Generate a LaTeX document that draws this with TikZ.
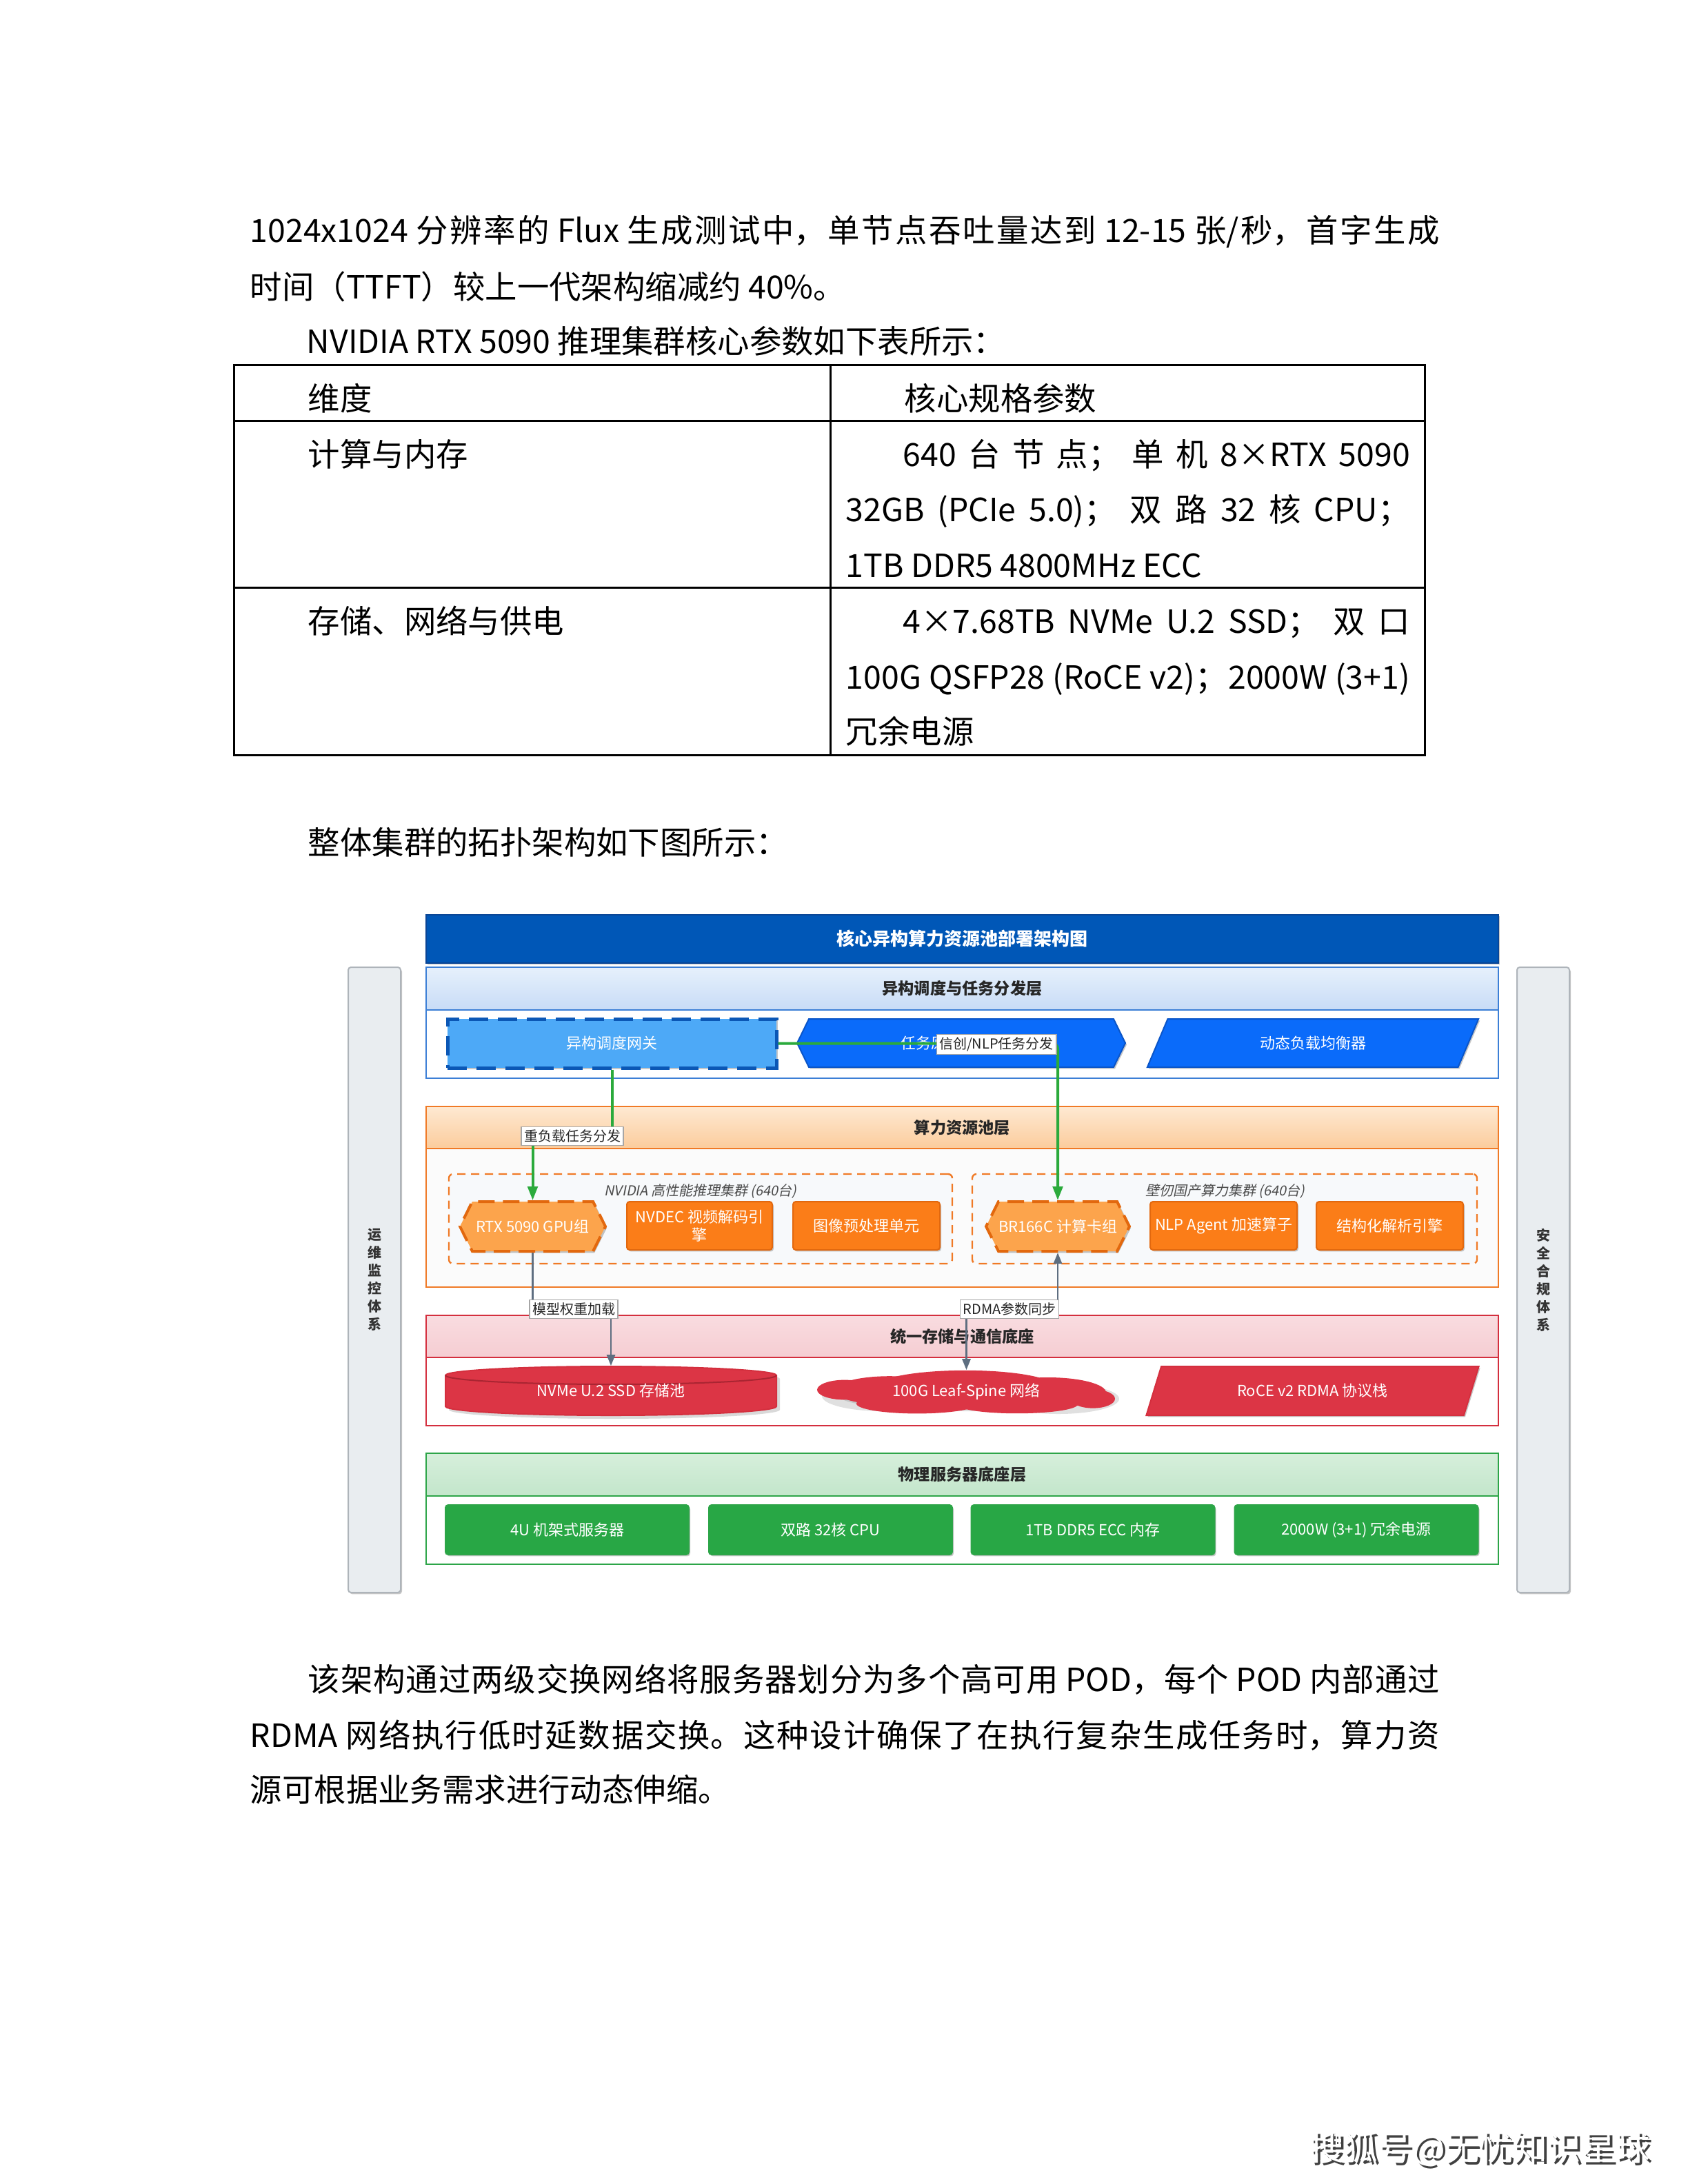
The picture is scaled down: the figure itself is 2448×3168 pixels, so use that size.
\documentclass[tikz,border=0pt]{standalone}
\usepackage{fontspec}
\setmainfont{Noto Sans CJK SC}
\newfontfamily\slfont{Noto Sans CJK SC}[FakeSlant=0.2]
\usetikzlibrary{arrows.meta,shapes.geometric,shapes.symbols,shadows}
\XeTeXlinebreaklocale "zh"
\XeTeXlinebreakskip=0pt plus 3pt minus 0.3pt
\hbadness=10000
\newlength\pxu
\setlength\pxu{0.25pt}
\newcommand{\justline}[2]{\parbox[b]{#1\pxu}{\parindent=0pt\parfillskip=0pt\relax #2}}

\definecolor{titleblue}{HTML}{0057B7}
\definecolor{titleedge}{HTML}{0A4696}
\definecolor{schedtop}{HTML}{E6F0FC}
\definecolor{schedbot}{HTML}{C8DCF6}
\definecolor{schededge}{HTML}{3C7FD6}
\definecolor{gwfill}{HTML}{4DA9F7}
\definecolor{gwedge}{HTML}{0B57B5}
\definecolor{brightblue}{HTML}{0A6BFA}
\definecolor{brightedge}{HTML}{0A55C8}
\definecolor{pooltop}{HTML}{FEE9D2}
\definecolor{poolbot}{HTML}{FBCC9C}
\definecolor{pooledge}{HTML}{F07A26}
\definecolor{orangebox}{HTML}{FB7D18}
\definecolor{orangeedge}{HTML}{E2680E}
\definecolor{orangehex}{HTML}{FCA44C}
\definecolor{clusterfill}{HTML}{F7F9FB}
\definecolor{stortop}{HTML}{F9DCE0}
\definecolor{storbot}{HTML}{F5CDD2}
\definecolor{rededge}{HTML}{D42F3E}
\definecolor{redbox}{HTML}{DC3545}
\definecolor{phystop}{HTML}{D6EFDB}
\definecolor{physbot}{HTML}{C3E6CB}
\definecolor{greenedge}{HTML}{2DA548}
\definecolor{greenbox}{HTML}{28A745}
\definecolor{sidefill}{HTML}{E9EDF0}
\definecolor{sideedge}{HTML}{AEB4BA}
\definecolor{arrowgreen}{HTML}{2BAA3C}
\definecolor{arrowgrey}{HTML}{5E6E80}

\tikzset{
  boxsize/.style 2 args={minimum width=#1\pxu, minimum height=#2\pxu},
  bodytext/.style={anchor=base west, inner sep=0pt, font=\fontsize{11.6}{14}\selectfont},
  softshadow/.style={drop shadow={shadow xshift=0.5pt, shadow yshift=-0.6pt, opacity=0.22, fill=black}},
  titlebar/.style={rectangle, fill=titleblue, draw=titleedge, line width=0.5pt, text=white,
    font=\bfseries\fontsize{6.5}{7}\selectfont, inner sep=0pt, softshadow},
  band/.style={rectangle, line width=0.6pt, inner sep=0pt, text=black!85,
    font=\bfseries\fontsize{5.8}{7}\selectfont},
  layerbox/.style={line width=0.6pt},
  celltext/.style={rectangle, inner sep=0pt, text=white, align=center,
    font=\fontsize{5.5}{6.6}\selectfont},
  cellbox/.style={celltext, softshadow},
  hexbox/.style={cellbox, signal, signal to=west and east},
  slantbox/.style={cellbox, trapezium, trapezium left angle=62, trapezium right angle=118,
    trapezium stretches},
  cluster/.style={rectangle, rounded corners=1.5pt, draw=pooledge, fill=clusterfill,
    dashed, dash pattern=on 3pt off 2pt, line width=0.6pt},
  clusterlabel/.style={inner sep=0pt, text=black!70, font=\slfont\fontsize{5}{6}\selectfont},
  sidebar/.style={rectangle, rounded corners=1pt, fill=sidefill, draw=sideedge, line width=0.5pt,
    inner sep=0pt, softshadow},
  sidetext/.style={inner sep=0pt, align=center, text=black!80,
    font=\bfseries\fontsize{5}{6.5}\selectfont},
  edgelabel/.style={rectangle, fill=white, draw=gray!70, line width=0.3pt, inner sep=1pt,
    text=black!85, font=\fontsize{5}{6}\selectfont},
  flowgreen/.style={draw=arrowgreen, line width=1pt, -{Triangle[length=5pt,width=3.6pt]}},
  flowgrey/.style={draw=arrowgrey, line width=0.7pt, -{Triangle[length=4pt,width=3pt]}},
  marktext/.style={inner sep=0pt, font=\fontsize{12.4}{12.4}\selectfont}
}

\begin{document}
\begin{tikzpicture}[x=0.25pt, y=-0.25pt]
\fill[white] (0,0) rectangle (2448,3168);
\useasboundingbox (0,0) rectangle (2448,3168);

% text above the table
\node[bodytext] (p1a) at (362,352) {\justline{1725}{1024x1024 分辨率的 Flux 生成测试中，单节点吞吐量达到 12-15 张/秒，首字生成}};
\node[bodytext] (p1b) at (362,433) {时间（TTFT）较上一代架构缩减约 40\%。};
\node[bodytext] (p1c) at (444,512) {NVIDIA RTX 5090 推理集群核心参数如下表所示：};

% table
\draw[line width=0.75pt] (339,529) rectangle (2066,1095);
\draw[line width=0.75pt] (339,610) -- (2066,610);
\draw[line width=0.75pt] (339,852) -- (2066,852);
\draw[line width=0.75pt] (1204,529) -- (1204,1095);
\node[bodytext] (hdra) at (446,595) {维度};
\node[bodytext] (hdrb) at (1311,595) {核心规格参数};
\node[bodytext] (rowa) at (446,676) {计算与内存};
\node[bodytext] (rowaa) at (1309,676) {\justline{735}{640 台节点；单机 8×RTX 5090}};
\node[bodytext] (rowab) at (1226,756) {\justline{818}{32GB (PCIe 5.0)；双路 32 核 CPU；}};
\node[bodytext] (rowac) at (1226,837) {1TB DDR5 4800MHz ECC};
\node[bodytext] (rowb) at (446,918) {存储、网络与供电};
\node[bodytext] (rowba) at (1309,918) {\justline{735}{4×7.68TB NVMe U.2 SSD；双口}};
\node[bodytext] (rowbb) at (1226,999) {\justline{818}{100G QSFP28 (RoCE v2)；2000W (3+1)}};
\node[bodytext] (rowbc) at (1226,1078) {冗余电源};

\node[bodytext] (intro) at (446,1239) {整体集群的拓扑架构如下图所示：};

% side bars
\node[sidebar, boxsize={76}{907}] (opsbar) at (543,1856.5) {};
\node[sidebar, boxsize={76}{907}] (secbar) at (2238,1856.5) {};
\node[sidetext] (opstext) at (opsbar) {运\\维\\监\\控\\体\\系};
\node[sidetext] (sectext) at (secbar) {安\\全\\合\\规\\体\\系};

% title
\node[titlebar, boxsize={1555}{70}] (title) at (1395.5,1362) {核心异构算力资源池部署架构图};

% scheduling layer
\draw[layerbox, draw=schededge, fill=white] (618,1403) rectangle (2173,1564);
\node[band, draw=schededge, top color=schedtop, bottom color=schedbot, boxsize={1555}{62}] (schedband) at (1395.5,1434) {异构调度与任务分发层};
\node[cellbox, fill=gwfill, draw=gwedge, line width=1.25pt, dash pattern=on 7pt off 3.5pt, boxsize={477}{71}] (gw) at (887.5,1513.5) {异构调度网关};
\node[hexbox, signal pointer angle=128, fill=brightblue, draw=brightedge, line width=0.5pt, boxsize={476}{70}] (taskhex) at (1394,1513) {任务原子化调度器};
\node[slantbox, fill=brightblue, draw=brightedge, line width=0.5pt, boxsize={482}{70}] (lb) at (1904,1513) {动态负载均衡器};

% compute pool layer
\draw[layerbox, draw=pooledge, fill=white!97!gray] (618,1605) rectangle (2173,1867);
\node[band, draw=pooledge, top color=pooltop, bottom color=poolbot, boxsize={1555}{61}] (poolband) at (1395.5,1635.5) {算力资源池层};
\node[cluster, boxsize={730}{130}] (nvcluster) at (1016,1768) {};
\node[cluster, boxsize={732}{130}] (bicluster) at (1776,1768) {};
\node[clusterlabel] (nvlabel) at (1016,1728) {NVIDIA 高性能推理集群 (640台)};
\node[clusterlabel] (bilabel) at (1777,1728) {壁仞国产算力集群 (640台)};
\node[hexbox, signal pointer angle=127, fill=orangehex, draw=orangeedge, line width=1pt, dash pattern=on 6pt off 3pt, boxsize={211}{72}] (rtx) at (772.5,1779) {RTX 5090 GPU组};
\node[cellbox, fill=orangebox, draw=orangeedge, line width=0.5pt, rounded corners=1pt, boxsize={211}{70}] (nvdec) at (1014.5,1778) {NVDEC 视频解码引\\擎};
\node[cellbox, fill=orangebox, draw=orangeedge, line width=0.5pt, rounded corners=1pt, boxsize={213}{70}] (imgpre) at (1256.5,1778) {图像预处理单元};
\node[hexbox, signal pointer angle=127, fill=orangehex, draw=orangeedge, line width=1pt, dash pattern=on 6pt off 3pt, boxsize={206}{72}] (br) at (1534,1779) {BR166C 计算卡组};
\node[cellbox, fill=orangebox, draw=orangeedge, line width=0.5pt, rounded corners=1pt, boxsize={213}{70}] (nlp) at (1774.5,1778) {NLP Agent 加速算子};
\node[cellbox, fill=orangebox, draw=orangeedge, line width=0.5pt, rounded corners=1pt, boxsize={213}{70}] (parse) at (2015.5,1778) {结构化解析引擎};

% storage and network layer
\draw[layerbox, draw=rededge, fill=white] (618,1908) rectangle (2173,2068);
\node[band, draw=rededge, top color=stortop, bottom color=storbot, boxsize={1555}{61}] (storband) at (1395.5,1938.5) {统一存储与通信底座};
\fill[black, opacity=0.15] (651,2000) -- (651,2045) arc[start angle=180, end angle=360, x radius=60pt, y radius=3.25pt] -- (1131,2000) arc[start angle=0, end angle=180, x radius=60pt, y radius=3.25pt] -- cycle;
\filldraw[fill=redbox, draw=rededge, line width=0.5pt] (646,1995) -- (646,2040) arc[start angle=180, end angle=360, x radius=60pt, y radius=3.25pt] -- (1126,1995) arc[start angle=0, end angle=180, x radius=60pt, y radius=3.25pt] -- cycle;
\draw[rededge!80!black, line width=0.5pt] (646,1995) arc[start angle=180, end angle=360, x radius=60pt, y radius=3.25pt];
\node[celltext, boxsize={480}{71}] (nvme) at (886,2017.5) {NVMe U.2 SSD 存储池};
% cloud outline built from overlapping puffs
\begin{scope}[fill=black, opacity=0.12, shift={(5,5)}]
\fill (1400,2020) ellipse [x radius=47pt, y radius=5.5pt];
\fill (1400,2012) ellipse [x radius=32pt, y radius=6pt];
\fill (1275,2020) ellipse [x radius=22pt, y radius=5.5pt];
\fill (1530,2024) ellipse [x radius=22pt, y radius=5.5pt];
\end{scope}
\begin{scope}[fill=redbox]
\fill (1400,2020) ellipse [x radius=47pt, y radius=5.5pt];
\fill (1400,2011) ellipse [x radius=32pt, y radius=5.8pt];
\fill (1290,2017) ellipse [x radius=20pt, y radius=5.2pt];
\fill (1225,2016) ellipse [x radius=10pt, y radius=3.6pt];
\fill (1520,2020) ellipse [x radius=21pt, y radius=5.5pt];
\fill (1585,2029) ellipse [x radius=8pt, y radius=3.4pt];
\fill (1330,2036) ellipse [x radius=22pt, y radius=3.6pt];
\fill (1475,2037) ellipse [x radius=22pt, y radius=3.3pt];
\end{scope}
\node[celltext, boxsize={431}{62}] (net) at (1401.5,2019) {100G Leaf-Spine 网络};
\node[slantbox, fill=redbox, draw=rededge, line width=0.5pt, boxsize={483}{71}] (roce) at (1903.5,2017.5) {RoCE v2 RDMA 协议栈};

% physical server layer
\draw[layerbox, draw=greenedge, fill=white] (618,2108) rectangle (2173,2269);
\node[band, draw=greenedge, top color=phystop, bottom color=physbot, boxsize={1555}{62}] (physband) at (1395.5,2139) {物理服务器底座层};
\node[cellbox, fill=greenbox, draw=greenedge, line width=0.5pt, rounded corners=1pt, boxsize={353}{72}] (srv) at (822.5,2219) {4U 机架式服务器};
\node[cellbox, fill=greenbox, draw=greenedge, line width=0.5pt, rounded corners=1pt, boxsize={353}{72}] (cpu) at (1204.5,2219) {双路 32核 CPU};
\node[cellbox, fill=greenbox, draw=greenedge, line width=0.5pt, rounded corners=1pt, boxsize={353}{72}] (mem) at (1585,2219) {1TB DDR5 ECC 内存};
\node[cellbox, fill=greenbox, draw=greenedge, line width=0.5pt, rounded corners=1pt, boxsize={353}{72}] (psu) at (1967,2219) {2000W (3+1) 冗余电源};

% connectors
\coordinate (heavypt) at (830,1648);
\coordinate (loadpt) at (832,1899);
\coordinate (rdmapt) at (1464,1899);
\draw[flowgreen] (gw.south) |- (heavypt) -| (rtx.north);
\draw[flowgreen, rounded corners=2pt] (gw.east) -| (br.north);
\draw[flowgrey] (rtx.south) |- (loadpt) -| (nvme.north);
\draw[flowgrey, {Triangle[length=4pt,width=3pt]}-{Triangle[length=4pt,width=3pt]}] (net.north) |- (rdmapt) -| (br.south);
\node[edgelabel] (heavylbl) at (heavypt) {重负载任务分发};
\node[edgelabel] (nlplbl) at (1445,1515) {信创/NLP任务分发};
\node[edgelabel] (loadlbl) at (loadpt) {模型权重加载};
\node[edgelabel] (rdmalbl) at (rdmapt) {RDMA参数同步};

% text below the figure
\node[bodytext] (p2a) at (446,2453) {\justline{1641}{该架构通过两级交换网络将服务器划分为多个高可用 POD，每个 POD 内部通过}};
\node[bodytext] (p2b) at (362,2534) {\justline{1725}{RDMA 网络执行低时延数据交换。这种设计确保了在执行复杂生成任务时，算力资}};
\node[bodytext] (p2c) at (362,2613) {源可根据业务需求进行动态伸缩。};

% source mark: white letters with a dark drop shadow
\node[marktext, text=black!75] (sohushade) at (2150,3121) {搜狐号@无忧知识星球};
\node[marktext, text=white] (sohu) at (2146,3117) {搜狐号@无忧知识星球};
\end{tikzpicture}
\end{document}
